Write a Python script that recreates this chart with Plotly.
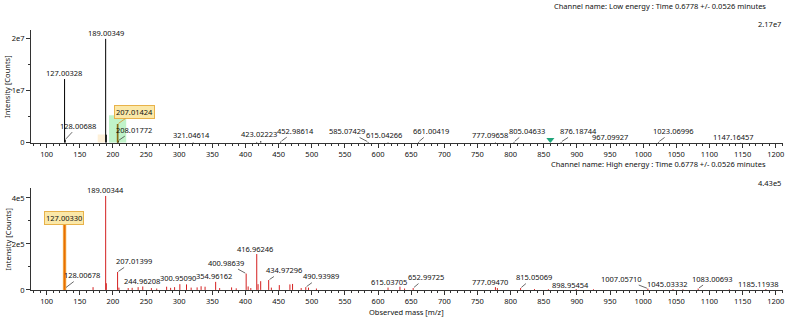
import plotly.graph_objects as go

# ---------------- data ----------------
# Low energy channel (top)
low_mz = [127.00328, 128.00688, 189.00349, 190.0065, 207.01424, 208.01772, 321.04614,
          416.9, 423.02223, 452.98614, 585.07429, 615.04266, 661.00419, 777.09658,
          805.04633, 876.18744, 967.09927, 1023.06996, 1147.16457]
low_int = [1.226e7, 6.0e5, 2.0e7, 1.55e6, 3.6e6, 4.0e5, 1.0e5,
           1.5e5, 3.0e5, 2.0e5, 1.5e5, 1.0e5, 1.5e5, 1.0e5,
           1.5e5, 1.5e5, 5.0e4, 1.5e5, 5.0e4]
low_label_mz = [127.00328, 128.00688, 189.00349, 207.01424, 208.01772, 321.04614, 423.02223,
                452.98614, 585.07429, 615.04266, 661.00419, 777.09658, 805.04633, 876.18744,
                967.09927, 1023.06996, 1147.16457]
low_label_text = ["127.00328", "128.00688", "189.00349", "207.01424", "208.01772", "321.04614",
                  "423.02223", "452.98614", "585.07429", "615.04266", "661.00419", "777.09658",
                  "805.04633", "876.18744", "967.09927", "1023.06996", "1147.16457"]
low_selected_mz = 207.01424
low_window_green = [194.0, 220.0]
low_window_green_height = 5.3e6
low_window_beige = [177.0, 188.0]
low_window_beige_height = 1.6e6
low_marker_mz = 860.0
low_marker_int = 6.0e5
low_max = 2.17e7

# High energy channel (bottom)
high_mz = [127.00330, 128.00678, 170.0, 189.00344, 190.0, 207.01399, 209.0, 223.0, 229.0,
           238.0, 244.96208, 258.0, 266.0, 281.0, 287.0, 293.0, 300.95090, 311.0, 318.0,
           327.0, 333.0, 339.0, 354.96162, 361.0, 379.0, 386.0, 400.98639, 404.0, 408.0,
           416.96246, 418.96, 422.9, 434.97296, 439.0, 451.0, 467.0, 471.0, 484.0,
           490.93989, 495.0, 507.0, 615.03705, 633.0, 640.0, 652.99725, 777.09470, 780.0,
           815.05069, 836.0, 857.0, 898.95454, 925.0, 1007.05710, 1045.03332, 1060.0,
           1083.00693, 1130.0, 1185.11938]
high_int = [2.84e5, 8.0e3, 1.2e4, 4.085e5, 2.9e4, 7.8e4, 1.0e4, 8.0e3, 9.0e3,
            1.2e4, 1.5e4, 8.0e3, 6.0e3, 1.4e4, 9.0e3, 1.2e4, 2.5e4, 2.4e4, 1.0e4,
            1.1e4, 1.6e4, 1.4e4, 3.5e4, 8.0e3, 1.1e4, 7.0e3, 7.1e4, 1.5e4, 8.0e3,
            1.56e5, 2.5e4, 3.8e4, 4.3e4, 1.0e4, 2.1e4, 2.4e4, 2.6e4, 8.0e3,
            1.2e4, 1.0e4, 6.0e3, 1.0e4, 1.4e4, 6.0e3, 8.0e3, 1.2e4, 8.0e3,
            8.0e3, 4.0e3, 3.0e3, 4.0e3, 3.0e3, 6.0e3, 4.0e3, 3.0e3,
            6.0e3, 3.0e3, 4.0e3]
high_label_mz = [127.00330, 128.00678, 189.00344, 207.01399, 244.96208, 300.95090, 354.96162,
                 400.98639, 416.96246, 434.97296, 490.93989, 615.03705, 652.99725, 777.09470,
                 815.05069, 898.95454, 1007.05710, 1045.03332, 1083.00693, 1185.11938]
high_label_text = ["127.00330", "128.00678", "189.00344", "207.01399", "244.96208", "300.95090",
                   "354.96162", "400.98639", "416.96246", "434.97296", "490.93989", "615.03705",
                   "652.99725", "777.09470", "815.05069", "898.95454", "1007.05710", "1045.03332",
                   "1083.00693", "1185.11938"]
high_selected_mz = 127.00330
high_max = 4.43e5

x_tick_step = 50
low_y_ticks = [0, 1e7, 2e7]
low_y_ticktext = ["0", "1e7", "2e7"]
high_y_ticks = [0, 2e5, 4e5]
high_y_ticktext = ["0", "2e5", "4e5"]

low_title = "Channel name: Low energy : Time 0.6778 +/- 0.0526 minutes"
high_title = "Channel name: High energy : Time 0.6778 +/- 0.0526 minutes"
y_title = "Intensity [Counts]"
x_title = "Observed mass [m/z]"

# ---------------- label placement (pixel offsets: dx, dy, leader) ----------------
low_label_offsets = [(-1, -6, False), (13, -14, True), (0, -6, False), (17, -12, True),
                     (16, -11, True), (-2, -7, False), (-2, -7, False), (15, -11, True),
                     (-21, -11, True), (-4, -7, False), (13, -11, True), (-5, -7, False),
                     (13, -11, True), (17, -11, True), (-11, -5, False), (15, -11, True),
                     (-7, -5, False)]
high_label_offsets = [(-1, -7, False), (17, -13, True), (0, -6, False), (16, -11, True),
                      (-1, -5, False), (-2, -6, False), (-2, -6, False), (-20, -11, True),
                      (-2, -5, False), (15, -10, True), (15, -11, True), (1, -6, False),
                      (13, -11, True), (-5, -5, False), (13, -11, True), (-6, -4, False),
                      (-26, -10, True), (-6, -5, False), (14, -10, True), (-7, -5, False)]

FONT = "Noto Sans"
FS = 7.5
W, H = 800, 322
X0, X1 = 31, 784
TOP_Y0, TOP_Y1 = 30.5, 145
BOT_Y0, BOT_Y1 = 191, 294.5


def sticks(mz, inten):
    xs, ys = [], []
    for m, v in zip(mz, inten):
        xs += [m, m, None]
        ys += [0, v, None]
    return xs, ys


def fmt_max(v):
    s = f"{v:.2e}"
    mant, exp = s.split("e")
    return f"{mant}e{int(exp)}"


fig = go.Figure()

# highlight windows (top)
fig.add_shape(type="rect", xref="x", yref="y", x0=low_window_beige[0], x1=low_window_beige[1],
              y0=0, y1=low_window_beige_height, fillcolor="rgba(253,230,190,0.6)",
              line=dict(width=0), layer="below")
fig.add_shape(type="rect", xref="x", yref="y", x0=low_window_green[0], x1=low_window_green[1],
              y0=0, y1=low_window_green_height, fillcolor="rgba(150,235,165,0.6)",
              line=dict(width=0), layer="below")

lx, ly = sticks(low_mz, low_int)
fig.add_trace(go.Scatter(x=lx, y=ly, mode="lines", line=dict(color="#000000", width=1),
                         xaxis="x", yaxis="y", hoverinfo="skip", showlegend=False))
sel_i = low_mz.index(low_selected_mz)
sx, sy = sticks([low_mz[sel_i]], [low_int[sel_i]])
fig.add_trace(go.Scatter(x=sx, y=sy, mode="lines", line=dict(color="#8a6a10", width=1.6),
                         xaxis="x", yaxis="y", hoverinfo="skip", showlegend=False))
fig.add_trace(go.Scatter(x=[low_marker_mz], y=[low_marker_int], mode="markers",
                         marker=dict(symbol="triangle-down", size=7, color="#20a57a"),
                         xaxis="x", yaxis="y", hoverinfo="skip", showlegend=False))

hx, hy = sticks(high_mz, high_int)
fig.add_trace(go.Scatter(x=hx, y=hy, mode="lines", line=dict(color="#d42020", width=1),
                         xaxis="x2", yaxis="y2", hoverinfo="skip", showlegend=False))
hi = high_mz.index(high_selected_mz)
sx, sy = sticks([high_mz[hi]], [high_int[hi]])
fig.add_trace(go.Scatter(x=sx, y=sy, mode="lines", line=dict(color="#f7c46a", width=3.5),
                         xaxis="x2", yaxis="y2", hoverinfo="skip", showlegend=False))
fig.add_trace(go.Scatter(x=sx, y=sy, mode="lines", line=dict(color="#e86f00", width=2),
                         xaxis="x2", yaxis="y2", hoverinfo="skip", showlegend=False))

annotations = []


def add_labels(mzs, texts, offsets, all_mz, all_int, xr, yr, selected):
    for m, t, (dx, dy, lead) in zip(mzs, texts, offsets):
        v = all_int[all_mz.index(m)]
        a = dict(x=m, y=v, xref=xr, yref=yr, text=t, showarrow=True, ax=dx, ay=dy,
                 arrowhead=0, arrowwidth=0.8, standoff=1,
                 arrowcolor="#444444" if lead else "rgba(0,0,0,0)",
                 font=dict(family=FONT, size=FS, color="#111111"))
        if m == selected:
            a.update(bgcolor="#fbe8a8", bordercolor="#e8b24a", borderwidth=1, borderpad=1)
            if lead:
                a["arrowcolor"] = "#d8902a"
        annotations.append(a)


add_labels(low_label_mz, low_label_text, low_label_offsets, low_mz, low_int, "x", "y", low_selected_mz)
add_labels(high_label_mz, high_label_text, high_label_offsets, high_mz, high_int, "x2", "y2", high_selected_mz)


def py(pix):
    return 1 - pix / H


def px(pix):
    return pix / W


txtfont = dict(family=FONT, size=FS, color="#111111")
annotations += [
    dict(x=px(769), y=py(6), xref="paper", yref="paper", text=low_title, showarrow=False,
         xanchor="right", yanchor="middle", font=txtfont),
    dict(x=px(769), y=py(167), xref="paper", yref="paper", text=high_title, showarrow=False,
         xanchor="right", yanchor="middle", font=txtfont),
    dict(x=px(784), y=py(24), xref="paper", yref="paper", text=fmt_max(low_max), showarrow=False,
         xanchor="right", yanchor="middle", font=txtfont),
    dict(x=px(784), y=py(186), xref="paper", yref="paper", text=fmt_max(high_max), showarrow=False,
         xanchor="right", yanchor="middle", font=txtfont),
    dict(x=px(7.5), y=py((TOP_Y0 + TOP_Y1) / 2), xref="paper", yref="paper", text=y_title,
         showarrow=False, textangle=-90, xanchor="center", yanchor="middle", font=txtfont),
    dict(x=px(7.5), y=py((BOT_Y0 + BOT_Y1) / 2), xref="paper", yref="paper", text=y_title,
         showarrow=False, textangle=-90, xanchor="center", yanchor="middle", font=txtfont),
    dict(x=px((X0 + X1) / 2), y=py(316.5), xref="paper", yref="paper", text=x_title,
         showarrow=False, xanchor="center", yanchor="middle", font=txtfont),
]

x_range = [76.3, 1211]
xcommon = dict(range=x_range, domain=[px(X0), px(X1)], showline=True, linecolor="#333333",
               linewidth=1, ticks="outside", ticklen=4, tickwidth=1, tickcolor="#333333",
               tick0=0, dtick=x_tick_step, showgrid=False, zeroline=False,
               tickfont=dict(family=FONT, size=FS, color="#111111"),
               minor=dict(ticks="outside", ticklen=2, dtick=10, tickcolor="#333333", showgrid=False))
ycommon = dict(showline=True, linecolor="#333333", linewidth=1, ticks="outside", ticklen=4,
               tickwidth=1, tickcolor="#333333", showgrid=False, zeroline=False,
               tickfont=dict(family=FONT, size=FS, color="#111111"))

fig.update_layout(
    width=W, height=H, margin=dict(l=0, r=0, t=0, b=0),
    paper_bgcolor="white", plot_bgcolor="white", showlegend=False,
    xaxis=dict(**xcommon, anchor="y"),
    xaxis2=dict(**xcommon, anchor="y2"),
    yaxis=dict(**ycommon, anchor="x", domain=[py(TOP_Y1), py(TOP_Y0)], range=[0, low_max],
               tickvals=low_y_ticks, ticktext=low_y_ticktext,
               minor=dict(ticks="outside", ticklen=2, tickvals=[5e6, 1.5e7], tickcolor="#333333")),
    yaxis2=dict(**ycommon, anchor="x2", domain=[py(BOT_Y1), py(BOT_Y0)], range=[0, high_max],
                tickvals=high_y_ticks, ticktext=high_y_ticktext,
                minor=dict(ticks="outside", ticklen=2, tickvals=[1e5, 3e5], tickcolor="#333333")),
    annotations=annotations,
)

fig.write_html(
    "out.html",
    config={"displayModeBar": False},
    post_script=("document.documentElement.style.margin='0';document.documentElement.style.padding='0';"
                 "document.documentElement.style.overflow='hidden';"
                 "document.body.style.margin='0';document.body.style.padding='0';"
                 "document.body.style.overflow='hidden';"),
)
